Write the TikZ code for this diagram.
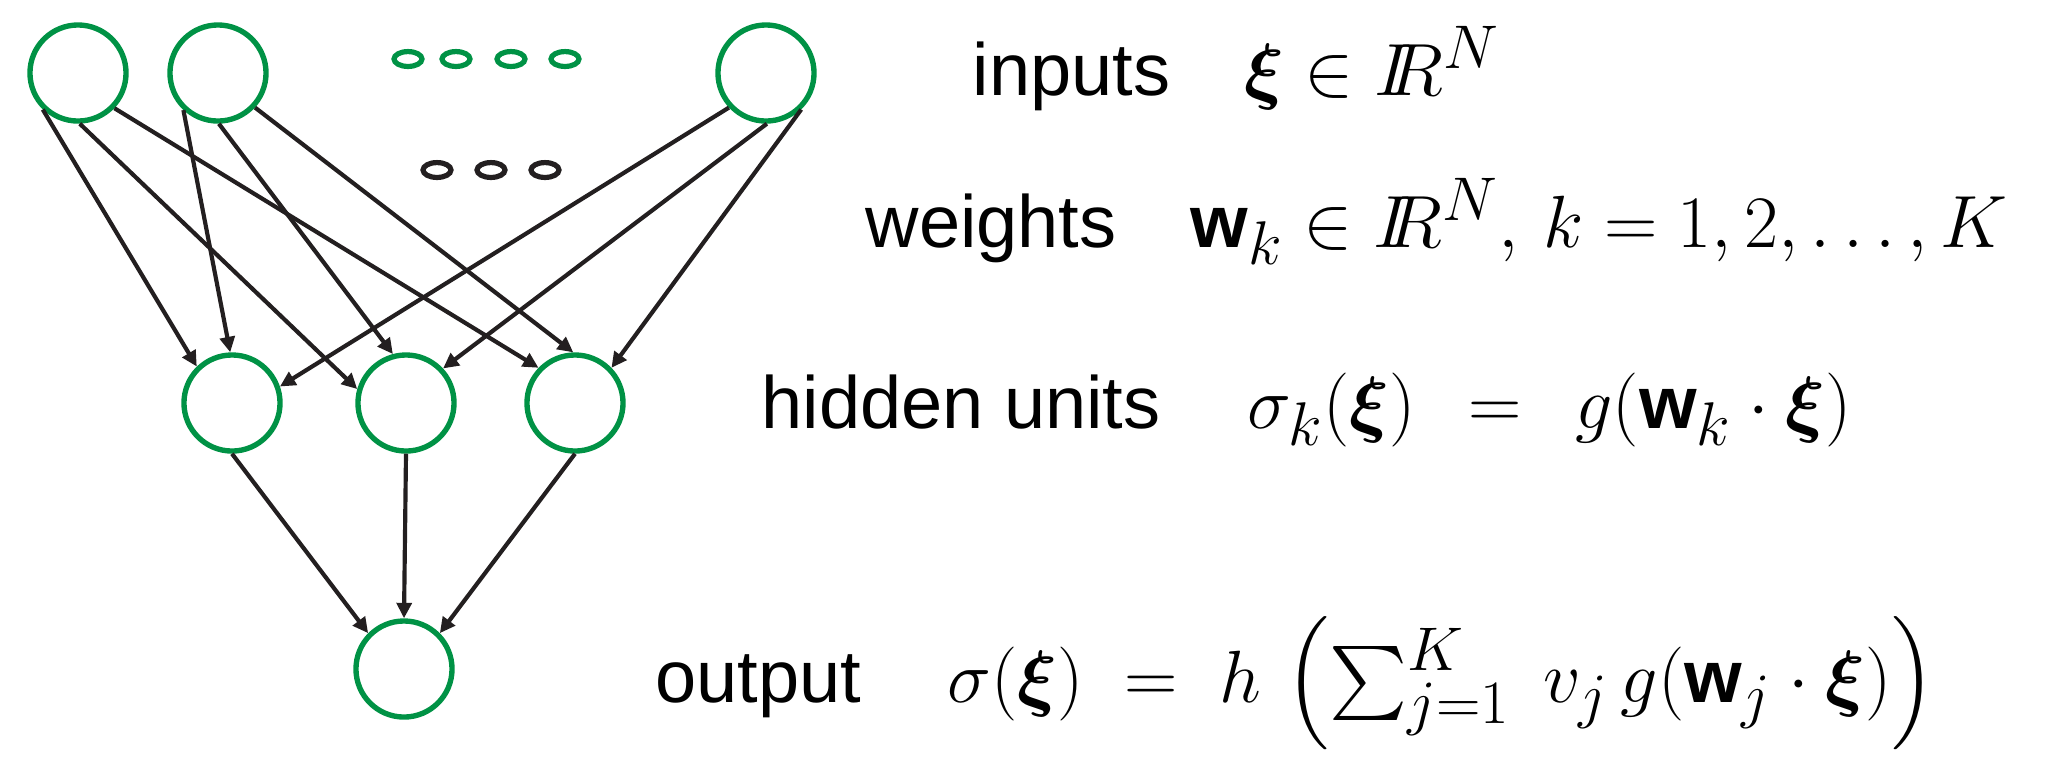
\documentclass[tikz,border=0pt]{standalone}
\usepackage{amsmath,bm}
\usepackage{fontspec}
\setsansfont{Liberation Sans}
\usetikzlibrary{arrows.meta,shapes.geometric}
\definecolor{ngreen}{RGB}{0,146,69}
\definecolor{ink}{RGB}{35,31,32}
\newcommand{\wv}{\textsf{\bfseries w}}
\newcommand{\IRn}{I\!\!R}
\begin{document}
\begin{tikzpicture}[x=0.3362pt,y=-0.3362pt,
  unit/.style={circle,draw=ngreen,line width=1.8pt,minimum size=32.3pt,inner sep=0pt},
  gdot/.style={ellipse,draw=ngreen,line width=1.75pt,minimum width=9.4pt,minimum height=5pt,inner sep=0pt},
  kdot/.style={ellipse,draw=ink,line width=1.75pt,minimum width=9.4pt,minimum height=5pt,inner sep=0pt},
  conn/.style={draw=ink,line width=1.4pt,-{Triangle[length=5.2pt,width=5pt]}},
  lbl/.style={font=\sffamily\fontsize{24.88}{30}\selectfont,inner sep=0pt,anchor=base west,text=black}]
\useasboundingbox (0,0) rectangle (2064,760);
% input layer
\node[unit] (i1) at (78,73) {};
\node[unit] (i2) at (218,73) {};
\node[unit] (i3) at (766,73) {};
\node[gdot] (g1) at (408,59) {};
\node[gdot] (g2) at (456,59) {};
\node[gdot] (g3) at (511,59) {};
\node[gdot] (g4) at (565,59) {};
\node[kdot] (b1) at (437,170) {};
\node[kdot] (b2) at (491,170) {};
\node[kdot] (b3) at (545,170) {};
% hidden layer
\node[unit] (h1) at (232,403) {};
\node[unit] (h2) at (406,403) {};
\node[unit] (h3) at (575,403) {};
% output
\node[unit] (o) at (404,669) {};
% connectors
\draw[conn] (i1.226) -- (h1.134);
\draw[conn] (i1.272) -- (h2.164);
\draw[conn] (i1.316) -- (h3.136);
\draw[conn] (i2.227) -- (h1.92);
\draw[conn] (i2.271) -- (h2.105);
\draw[conn] (i2.317) -- (h3.92);
\draw[conn] (i3.223) -- (h1.19);
\draw[conn] (i3.271) -- (h2.43);
\draw[conn] (i3.314) -- (h3.44);
\draw[conn] (h1.270) -- (o.135);
\draw[conn] (h2.270) -- (o.90);
\draw[conn] (h3.270) -- (o.45);
% labels
\node[lbl] (t1) at (972,95) {inputs\quad$\bm{\xi}\in \IRn^N$};
\node[lbl] (t2) at (865,247) {weights\quad$\wv_k\in \IRn^N,\, k=1,2,\ldots,K$};
\node[lbl] (t3) at (761,428) {hidden units\quad\,$\sigma_k(\bm{\xi})\;\,=\;\,g(\wv_k\cdot\bm{\xi})$};
\node[lbl] (t4) at (655,702) {output\quad\,$\sigma(\bm{\xi})\;=\;h\,\left(\sum_{j=1}^K\;v_j\,g(\wv_j\cdot\bm{\xi})\right)$};
\end{tikzpicture}
\end{document}
